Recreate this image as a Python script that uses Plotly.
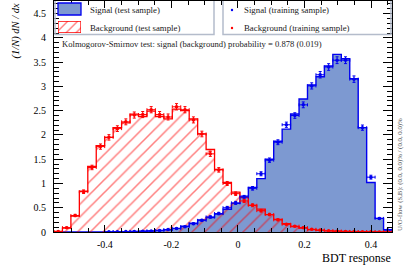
import plotly.graph_objects as go

# ---------------- data ----------------
X_MIN, X_MAX, N_BINS = -0.553, 0.463, 40
Y_MAX = 4.76

sig_test = [0, 0, 0, 0, 0, 0, 0.003, 0.005, 0.008, 0.01,
            0.015, 0.02, 0.03, 0.045, 0.075, 0.12, 0.18, 0.25, 0.30, 0.37,
            0.47, 0.59, 0.74, 0.92, 1.10, 1.50, 1.87, 2.12, 2.43, 2.74,
            3.03, 3.20, 3.42, 3.66, 3.57, 3.16, 2.15, 1.02, 0.28, 0.045]

bkg_test = [0.01, 0.08, 0.33, 0.84, 1.35, 1.78, 1.95, 2.15, 2.25, 2.43,
            2.38, 2.49, 2.38, 2.33, 2.53, 2.50, 2.33, 2.02, 1.70, 1.29,
            1.02, 0.82, 0.71, 0.55, 0.47, 0.36, 0.26, 0.17, 0.11, 0.08,
            0.05, 0.035, 0.025, 0.015, 0.01, 0.008, 0.005, 0.003, 0.002, 0.001]

sig_train = [None, None, None, None, None, None, 0.004, 0.006, 0.009, 0.012,
             0.016, 0.022, 0.032, 0.05, 0.07, 0.11, 0.17, 0.24, 0.31, 0.38,
             0.50, 0.60, 0.72, 0.90, 1.20, 1.48, 1.85, 2.21, 2.40, 2.62,
             3.01, 3.24, 3.40, 3.54, 3.54, 3.15, 2.15, 1.13, 0.28, 0.04]

bkg_train = [0.01, 0.09, 0.34, 0.83, 1.33, 1.76, 1.95, 2.13, 2.27, 2.41,
             2.42, 2.52, 2.42, 2.37, 2.58, 2.52, 2.31, 2.02, 1.61, 1.28,
             1.00, 0.79, 0.64, 0.55, 0.44, 0.36, 0.25, 0.16, 0.12, 0.09,
             0.055, 0.04, 0.025, 0.018, 0.012, 0.008, 0.005, 0.004, 0.002, 0.001]

sig_err = [0, 0, 0, 0, 0, 0, 0.002, 0.003, 0.004, 0.004,
           0.005, 0.006, 0.007, 0.009, 0.011, 0.014, 0.017, 0.02, 0.023, 0.025,
           0.028, 0.031, 0.034, 0.037, 0.041, 0.045, 0.05, 0.054, 0.057, 0.06,
           0.064, 0.066, 0.068, 0.07, 0.07, 0.066, 0.054, 0.04, 0.02, 0.008]

bkg_err = [0.005, 0.012, 0.024, 0.037, 0.046, 0.054, 0.056, 0.059, 0.061, 0.063,
           0.063, 0.064, 0.063, 0.062, 0.065, 0.064, 0.062, 0.058, 0.052, 0.046,
           0.041, 0.036, 0.033, 0.030, 0.027, 0.024, 0.02, 0.016, 0.014, 0.012,
           0.009, 0.008, 0.006, 0.005, 0.004, 0.003, 0.003, 0.002, 0.002, 0.001]

X_TICKS = [-0.4, -0.2, 0, 0.2, 0.4]
X_TICK_TEXT = ["-0.4", "-0.2", "0", "0.2", "0.4"]
Y_TICKS = [0, 0.5, 1, 1.5, 2, 2.5, 3, 3.5, 4, 4.5]

# ---------------- geometry ----------------
W, H = 407, 280
L, R, T, B = 54, 392, 1, 232
FONT = "Liberation Serif"
SIG_FILL = "#7d99d1"
SIG_LINE = "#0000f0"
BKG_LINE = "#ff0000"


def px(x):
    return (x - L) / (R - L)


def py(y):
    return (B - y) / (B - T)


bw = (X_MAX - X_MIN) / N_BINS
edges = [X_MIN + i * bw for i in range(N_BINS + 1)]
centers = [X_MIN + (i + 0.5) * bw for i in range(N_BINS)]


def step(vals):
    xs = [edges[0]] + edges[:-1] + [edges[-1], edges[-1]]
    ys = [0] + list(vals) + [vals[-1], 0]
    return xs, ys


fig = go.Figure()

sx, sy = step(sig_test)
fig.add_trace(go.Scatter(x=sx, y=sy, mode="lines", line=dict(color=SIG_LINE, width=1.4, shape="hv"),
                         fill="tozeroy", fillcolor=SIG_FILL, showlegend=False, hoverinfo="skip"))
bx, by = step(bkg_test)
fig.add_trace(go.Scatter(x=bx, y=by, mode="lines", line=dict(color=BKG_LINE, width=1.3, shape="hv"),
                         fill="tozeroy", fillcolor="rgba(0,0,0,0)",
                         fillpattern=dict(shape="/", fgcolor=BKG_LINE, size=9, solidity=0.17),
                         showlegend=False, hoverinfo="skip"))

fig.add_trace(go.Scatter(x=centers, y=sig_train, mode="markers",
                         marker=dict(color=SIG_LINE, size=3.5),
                         error_y=dict(type="data", array=sig_err, color=SIG_LINE, thickness=1, width=1.5),
                         error_x=dict(type="constant", value=bw / 2, color=SIG_LINE, thickness=1, width=1.5),
                         showlegend=False, hoverinfo="skip"))
fig.add_trace(go.Scatter(x=centers, y=bkg_train, mode="markers",
                         marker=dict(color=BKG_LINE, size=3.5),
                         error_y=dict(type="data", array=bkg_err, color=BKG_LINE, thickness=1, width=1.5),
                         error_x=dict(type="constant", value=bw / 2, color=BKG_LINE, thickness=1, width=1.5),
                         showlegend=False, hoverinfo="skip"))

# hatched legend swatch on auxiliary axes
fig.add_trace(go.Scatter(x=[0, 1, 1, 0, 0], y=[0, 0, 1, 1, 0], xaxis="x2", yaxis="y2",
                         mode="lines", line=dict(color=BKG_LINE, width=1.3),
                         fill="toself", fillcolor="rgba(0,0,0,0)",
                         fillpattern=dict(shape="/", fgcolor=BKG_LINE, size=7, solidity=0.2),
                         showlegend=False, hoverinfo="skip"))

tickfont = dict(family=FONT, size=10, color="black")
fig.update_layout(
    width=W, height=H,
    margin=dict(l=L, r=W - R, t=T, b=H - B, pad=0),
    paper_bgcolor="white", plot_bgcolor="white",
    showlegend=False,
    xaxis=dict(range=[X_MIN, X_MAX], showgrid=False, zeroline=False,
               showline=True, linecolor="black", linewidth=1, mirror="allticks",
               ticks="inside", ticklen=7, tickwidth=1, tickcolor="black",
               tickvals=X_TICKS, ticktext=X_TICK_TEXT,
               minor=dict(dtick=0.05, tick0=0, ticks="inside", ticklen=4, tickcolor="black"),
               tickfont=tickfont, ticklabelstandoff=3),
    yaxis=dict(range=[0, Y_MAX], showgrid=False, zeroline=False,
               showline=True, linecolor="black", linewidth=1, mirror="allticks",
               ticks="inside", ticklen=9, tickwidth=1, tickcolor="black",
               tickvals=Y_TICKS,
               minor=dict(dtick=0.1, tick0=0, ticks="inside", ticklen=5, tickcolor="black"),
               tickfont=tickfont, ticklabelstandoff=5),
    xaxis2=dict(domain=[px(58), px(81)], range=[0, 1], visible=False, anchor="y2", fixedrange=True),
    yaxis2=dict(domain=[py(33), py(21)], range=[0, 1], visible=False, anchor="x2", fixedrange=True),
)

grey = "#b4bccb"
shapes = []
for x0, x1 in [(55, 214), (223, 391)]:
    shapes.append(dict(type="path", xref="paper", yref="paper",
                       path=f"M {px(x0)},{py(1)} L {px(x0)},{py(34.5)} L {px(x1)},{py(34.5)} L {px(x1)},{py(1)}",
                       line=dict(color=grey, width=1.5)))
shapes.append(dict(type="rect", xref="paper", yref="paper",
                   x0=px(58), x1=px(81), y0=py(15), y1=py(3),
                   fillcolor=SIG_FILL, line=dict(color=SIG_LINE, width=1.3)))
for yy, col in [(10, SIG_LINE), (28, BKG_LINE)]:
    shapes.append(dict(type="circle", xref="paper", yref="paper",
                       x0=px(230.8), x1=px(233.2), y0=py(yy + 1.2), y1=py(yy - 1.2),
                       fillcolor=col, line=dict(width=0)))
fig.update_layout(shapes=shapes)

ann = []
lf = dict(family=FONT, size=8.8, color="#222")
for x, y, t in [(89, 10, "Signal (test sample)"), (89, 28, "Background (test sample)"),
                (243, 10, "Signal (training sample)"), (243, 28, "Background (training sample)")]:
    ann.append(dict(x=px(x), y=py(y), xref="paper", yref="paper", text=t, showarrow=False,
                    xanchor="left", yanchor="middle", font=lf, borderpad=0))
ann.append(dict(x=px(61), y=py(44), xref="paper", yref="paper",
                text="Kolmogorov-Smirnov test: signal (background) probability = 0.878 (0.019)",
                showarrow=False, xanchor="left", yanchor="middle", borderpad=0,
                font=dict(family=FONT, size=8.6, color="#222")))
ann.append(dict(x=px(392), y=py(258), xref="paper", yref="paper", text="BDT response",
                showarrow=False, xanchor="right", yanchor="middle", borderpad=0,
                font=dict(family=FONT, size=12, color="black")))
ann.append(dict(x=px(15), y=py(3), xref="paper", yref="paper",
                text="<i>(1/N) dN / dx</i>", textangle=-90,
                showarrow=False, xanchor="center", yanchor="top", borderpad=0,
                font=dict(family=FONT, size=10.5, color="black")))
ann.append(dict(x=px(399.5), y=py(232), xref="paper", yref="paper",
                text="U/O-flow (S,B): (0.0, 0.0)% / (0.0, 0.0)%", textangle=-90,
                showarrow=False, xanchor="center", yanchor="bottom", borderpad=0,
                font=dict(family=FONT, size=6.8, color="#555")))
fig.update_layout(annotations=ann)

fig.write_html("out.html", config={"displayModeBar": False, "staticPlot": True},
               post_script="document.body.style.margin='0px';document.body.style.padding='0px';")
